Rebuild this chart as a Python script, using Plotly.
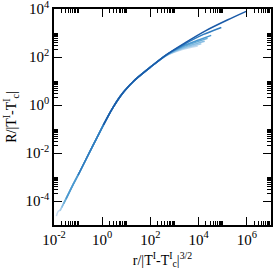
import numpy as np
import plotly.graph_objects as go

# Values, stored as log10(x) and log10(y)
c0_logx = [-1.90, -1.84, -1.73, -1.62, -1.57, -1.2, -0.92, -0.44, 0.04, 0.25, 0.45, 0.65, 0.87, 1.05, 1.28, 1.5, 2.0, 2.6, 3.35, 3.96]
c0_logy = [-4.63, -4.45, -4.35, -4.12, -4.05, -3.3, -2.76, -1.8, -0.85, -0.45, -0.1, 0.22, 0.52, 0.73, 0.97, 1.17, 1.58, 2.02, 2.32, 2.46]
c1_logx = [-1.75, -1.57, -1.2, -0.92, -0.44, 0.04, 0.25, 0.45, 0.65, 0.87, 1.05, 1.28, 1.5, 2.0, 2.6, 3.35, 3.75, 4.11]
c1_logy = [-4.41, -4.05, -3.3, -2.76, -1.8, -0.85, -0.45, -0.1, 0.22, 0.52, 0.73, 0.97, 1.17, 1.58, 2.03, 2.35, 2.46, 2.55]
c2_logx = [-1.68, -1.57, -1.2, -0.92, -0.44, 0.04, 0.25, 0.45, 0.65, 0.87, 1.05, 1.28, 1.5, 2.0, 2.6, 3.35, 3.8, 4.25]
c2_logy = [-4.27, -4.05, -3.3, -2.76, -1.8, -0.85, -0.45, -0.1, 0.22, 0.52, 0.73, 0.97, 1.17, 1.58, 2.03, 2.38, 2.53, 2.66]
c3_logx = [-1.60, -1.57, -1.2, -0.92, -0.44, 0.04, 0.25, 0.45, 0.65, 0.87, 1.05, 1.28, 1.5, 2.0, 2.6, 3.35, 3.9, 4.37]
c3_logy = [-4.11, -4.05, -3.3, -2.76, -1.8, -0.85, -0.45, -0.1, 0.22, 0.52, 0.73, 0.97, 1.17, 1.58, 2.04, 2.42, 2.62, 2.78]
c4_logx = [-1.50, -1.2, -0.92, -0.44, 0.04, 0.25, 0.45, 0.65, 0.87, 1.05, 1.28, 1.5, 2.0, 2.6, 3.35, 4.0, 4.52]
c4_logy = [-3.91, -3.3, -2.76, -1.8, -0.85, -0.45, -0.1, 0.22, 0.52, 0.73, 0.97, 1.17, 1.58, 2.05, 2.46, 2.71, 2.9]
c5_logx = [-1.00, -0.92, -0.44, 0.04, 0.25, 0.45, 0.65, 0.87, 1.05, 1.28, 1.5, 2.0, 2.6, 3.35, 4.2, 4.94]
c5_logy = [-2.92, -2.76, -1.8, -0.85, -0.45, -0.1, 0.22, 0.52, 0.73, 0.97, 1.17, 1.58, 2.05, 2.5, 2.94, 3.23]
c6_logx = [0.05, 0.25, 0.45, 0.65, 0.87, 1.05, 1.28, 1.5, 2.0, 2.6, 3.5, 4.3, 5.21, 5.97]
c6_logy = [-0.83, -0.45, -0.1, 0.22, 0.52, 0.73, 0.97, 1.17, 1.58, 2.05, 2.63, 3.1, 3.55, 3.9]

series_x = [c0_logx, c1_logx, c2_logx, c3_logx, c4_logx, c5_logx, c6_logx]
series_y = [c0_logy, c1_logy, c2_logy, c3_logy, c4_logy, c5_logy, c6_logy]
colors = ['#c6dbef', '#a6cde9', '#85bce3', '#6baed6', '#4a98d0', '#2f7bbf', '#1a5aa8']

x_tick_exp = [-2, 0, 2, 4, 6]
y_tick_exp = [-4, -2, 0, 2, 4]

fig = go.Figure()
for lx, ly, c in zip(series_x, series_y, colors):
    fig.add_trace(go.Scatter(x=10 ** np.array(lx), y=10 ** np.array(ly), mode='lines',
                             line=dict(color=c, width=1.5, shape='spline', smoothing=0.6),
                             showlegend=False, hoverinfo='skip'))

def minor_vals(exps):
    return [k * 10.0 ** d for d in exps for k in range(2, 11)]

tfont = dict(family='Liberation Serif', size=15, color='black')
afont = dict(family='Liberation Serif', size=14, color='black')
common = dict(type='log', showgrid=False, zeroline=False, showline=True, linecolor='black',
              linewidth=1.5, mirror='ticks', ticks='inside', ticklen=8, tickwidth=1,
              tickcolor='black', tickfont=tfont, automargin=False,
              ticklabeloverflow='allow')

fig.update_xaxes(range=[-2, 7], tickmode='array',
                 tickvals=[10.0 ** e for e in x_tick_exp],
                 ticktext=['10<sup>%d</sup>' % e for e in x_tick_exp],
                 minor=dict(tickmode='array', tickvals=minor_vals(x_tick_exp), ticklen=4,
                            tickcolor='black', ticks='inside'),
                 title=dict(text='r/|T<sup>I</sup>-T<sup>I</sup><sub>c</sub>|<sup>3/2</sup>',
                            font=afont, standoff=8),
                 **common)
fig.update_yaxes(range=[-5, 4], tickmode='array',
                 tickvals=[10.0 ** e for e in y_tick_exp],
                 ticktext=['10<sup>%d</sup>' % e for e in y_tick_exp],
                 minor=dict(tickmode='array', tickvals=minor_vals([-4, -2, 0, 2]), ticklen=4,
                            tickcolor='black', ticks='inside'),
                 title=dict(text='R/|T<sup>I</sup>-T<sup>I</sup><sub>c</sub>|', font=afont, standoff=6),
                 **common)

fig.update_layout(width=273, height=273, margin=dict(l=54, r=2, t=9, b=48),
                  paper_bgcolor='white', plot_bgcolor='white', font=afont)
fig.write_html('out.html', config={'displayModeBar': False},
               post_script="document.body.style.margin='0';document.body.style.overflow='hidden';")
